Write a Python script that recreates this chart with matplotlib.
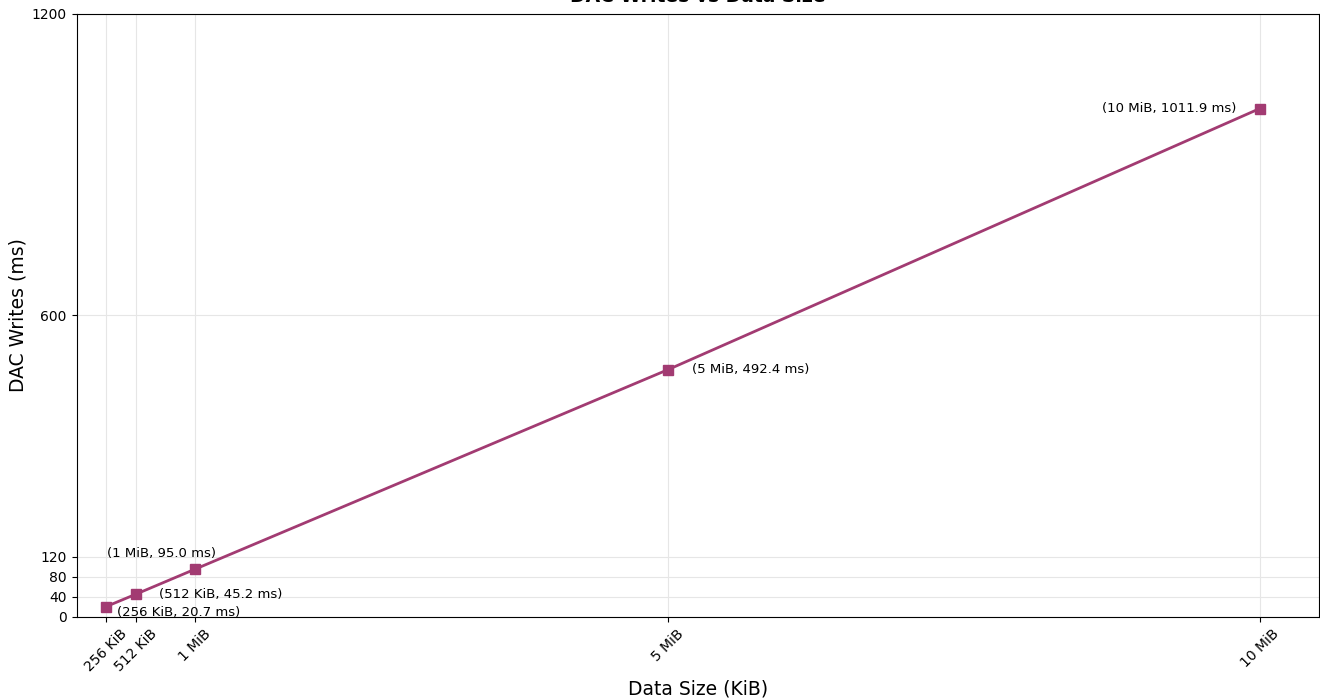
import matplotlib.pyplot as plt

# data
sizes_kib = [256, 512, 1024, 5120, 10240]
size_labels = ["256 KiB", "512 KiB", "1 MiB", "5 MiB", "10 MiB"]
write_ms = [20.7, 45.2, 95.0, 492.4, 1011.9]
y_ticks = [0, 40, 80, 120, 600, 1200]

# annotation offsets in points and horizontal alignment
label_offsets = [(8, -4, "left"), (17, 0, "left"), (-24, 11, "center"),
                 (17, 0, "left"), (-17, 0, "right")]

COLOR = "#A23B72"

fig = plt.figure(figsize=(13.2, 7), dpi=100)
ax = fig.add_axes([76.5 / 1320, 83 / 700, 1242.5 / 1320, 603 / 700])

ax.plot(sizes_kib, write_ms, color=COLOR, linewidth=2,
        marker="s", markersize=7, zorder=3)

for x, y, lab, (dx, dy, ha) in zip(sizes_kib, write_ms, size_labels,
                                   label_offsets):
    ax.annotate(f"({lab}, {y:.1f} ms)", (x, y), xytext=(dx, dy),
                textcoords="offset points", ha=ha, va="center", fontsize=9.5)

# x range runs from zero to 5% past the largest size
ax.set_xlim(0, max(sizes_kib) * 1.05)
ax.set_ylim(0, 1200)
ax.set_xticks(sizes_kib)
ax.set_xticklabels(size_labels, rotation=45, fontsize=10)
ax.set_yticks(y_ticks)
ax.tick_params(axis="y", labelsize=10)
ax.grid(True, color="#e6e6e6", linewidth=0.8)
ax.set_axisbelow(True)

ax.set_xlabel("Data Size (KiB)", fontsize=13.5)
ax.set_ylabel("DAC Writes (ms)", fontsize=13.5)
ax.yaxis.set_label_coords(-0.0398, 0.5)
ax.set_title("DAC Writes vs Data Size", fontsize=13.5, fontweight="bold",
             pad=8.5)

fig.savefig("out.png", dpi=100)
